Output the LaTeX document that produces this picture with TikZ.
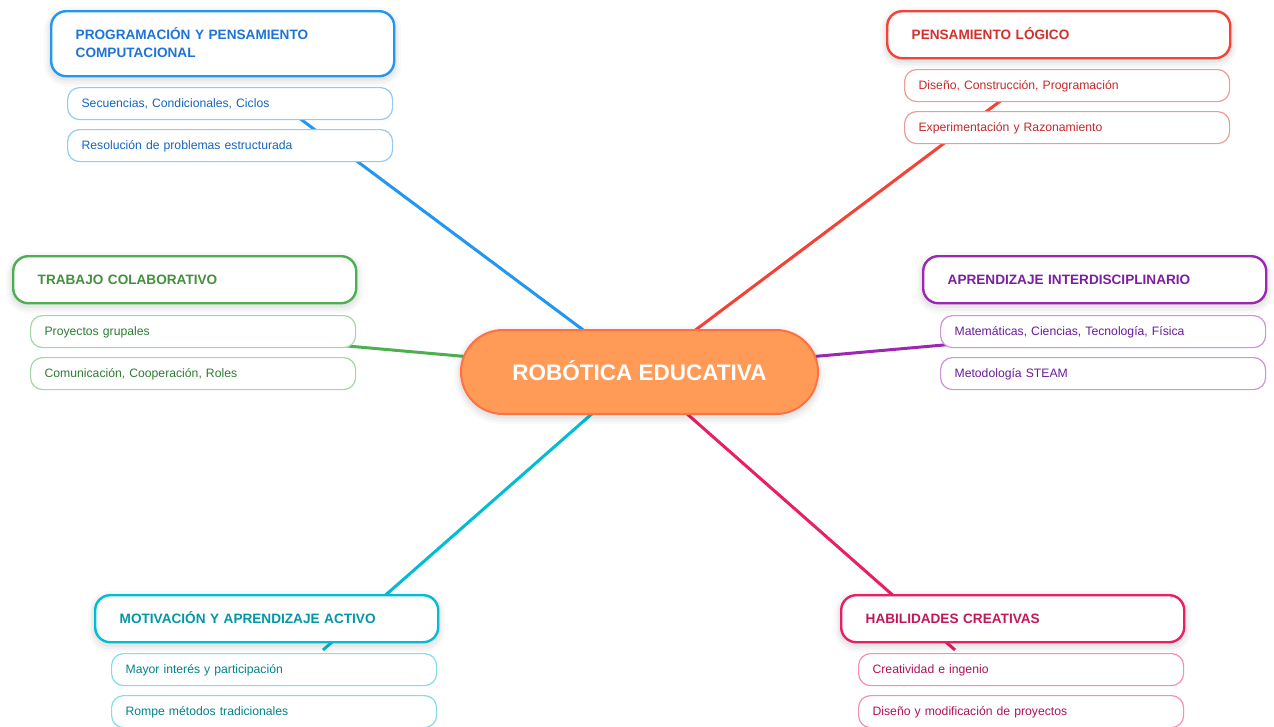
\documentclass[tikz,border=0pt]{standalone}
\usepackage{fontspec}
\setmainfont{Liberation Sans}
\pgfdeclarelayer{back}
\pgfdeclarelayer{bg}
\pgfsetlayers{back,bg,main}
\definecolor{cBlue}{HTML}{2196F3}\definecolor{tBlue}{HTML}{1E74D6}\definecolor{lBlue}{HTML}{90CAF9}\definecolor{sBlue}{HTML}{1565C0}
\definecolor{cRed}{HTML}{F44336}\definecolor{tRed}{HTML}{D32F2F}\definecolor{lRed}{HTML}{EF9A9A}\definecolor{sRed}{HTML}{C62828}
\definecolor{cGreen}{HTML}{4CAF50}\definecolor{tGreen}{HTML}{43903A}\definecolor{lGreen}{HTML}{A5D6A7}\definecolor{sGreen}{HTML}{2E7D32}
\definecolor{cPurple}{HTML}{9C27B0}\definecolor{tPurple}{HTML}{7B1FA2}\definecolor{lPurple}{HTML}{CE93D8}\definecolor{sPurple}{HTML}{6A1B9A}
\definecolor{cCyan}{HTML}{00BCD4}\definecolor{tCyan}{HTML}{0097A7}\definecolor{lCyan}{HTML}{80DEEA}\definecolor{sCyan}{HTML}{00838F}
\definecolor{cPink}{HTML}{E91E63}\definecolor{tPink}{HTML}{C2185B}\definecolor{lPink}{HTML}{F48FB1}\definecolor{sPink}{HTML}{AD1457}
\definecolor{cOrange}{HTML}{FF9A57}\definecolor{bOrange}{HTML}{FF7043}
\tikzset{
  shd/.style={
    preaction={draw=black, draw opacity=0.025, line width=14pt, transform canvas={yshift=-3pt}},
    preaction={draw=black, draw opacity=0.03, line width=9pt, transform canvas={yshift=-3pt}},
    preaction={draw=black, draw opacity=0.04, line width=5pt, transform canvas={yshift=-2pt}}},
  hdr/.style n args={2}{draw=#1, line width=2.4pt, fill=white, rounded corners=15pt, anchor=north west,
    minimum width=343pt, minimum height=47pt, inner xsep=24.5pt, inner ysep=0pt, text width=294pt, align=left,
    font=\bfseries\fontsize{13.6}{18}\selectfont, text=#2, shd, text height=9.7pt, text depth=0pt},
  subbox/.style n args={2}{draw=#1, line width=1.2pt, fill=white, rounded corners=12pt, anchor=north west,
    minimum width=325pt, minimum height=32pt, inner xsep=14pt, inner ysep=0pt, text width=297pt, align=left,
    font=\fontsize{12.2}{14}\selectfont, text=#2, text height=8.7pt, text depth=0pt},
  conn/.style={draw=#1, line width=3pt},
  hub/.style={draw=bOrange, line width=2pt, fill=cOrange, rounded corners=42pt, minimum width=357pt, minimum height=84pt,
    font=\bfseries\fontsize{22.5}{27}\selectfont, text=white, shd, text height=16.1pt, text depth=0pt}
}
\begin{document}
\begin{tikzpicture}[x=1pt,y=-1pt]
\begin{pgfonlayer}{back}
\fill[white] (0,0) rectangle (1274,726);
\end{pgfonlayer}
\useasboundingbox (0,0) rectangle (1274,726);
% center
\node[hub] (center) at (639.5,372) {ROBÓTICA EDUCATIVA};
% blue
\node[hdr={cBlue}{tBlue}, minimum height=65pt, text depth=18pt] (h1) at (50,10) {PROGRAMACIÓN Y PENSAMIENTO\\COMPUTACIONAL};
\node[subbox={lBlue}{sBlue}] (s11) at (67,87) {Secuencias, Condicionales, Ciclos};
\node[subbox={lBlue}{sBlue}] (s12) at (67,129) {Resolución de problemas estructurada};
% red
\node[hdr={cRed}{tRed}] (h2) at (886,10) {PENSAMIENTO LÓGICO};
\node[subbox={lRed}{sRed}] (s21) at (904,69) {Diseño, Construcción, Programación};
\node[subbox={lRed}{sRed}] (s22) at (904,111) {Experimentación y Razonamiento};
% green
\node[hdr={cGreen}{tGreen}] (h3) at (12,255) {TRABAJO COLABORATIVO};
\node[subbox={lGreen}{sGreen}] (s31) at (30,315) {Proyectos grupales};
\node[subbox={lGreen}{sGreen}] (s32) at (30,357) {Comunicación, Cooperación, Roles};
% purple
\node[hdr={cPurple}{tPurple}] (h4) at (922,255) {APRENDIZAJE INTERDISCIPLINARIO};
\node[subbox={lPurple}{sPurple}] (s41) at (940,315) {Matemáticas, Ciencias, Tecnología, Física};
\node[subbox={lPurple}{sPurple}] (s42) at (940,357) {Metodología STEAM};
% cyan
\node[hdr={cCyan}{tCyan}] (h5) at (94,594) {MOTIVACIÓN Y APRENDIZAJE ACTIVO};
\node[subbox={lCyan}{sCyan}] (s51) at (111,653) {Mayor interés y participación};
\node[subbox={lCyan}{sCyan}] (s52) at (111,695) {Rompe métodos tradicionales};
% pink
\node[hdr={cPink}{tPink}] (h6) at (840,594) {HABILIDADES CREATIVAS};
\node[subbox={lPink}{sPink}] (s61) at (858,653) {Creatividad e ingenio};
\node[subbox={lPink}{sPink}] (s62) at (858,695) {Diseño y modificación de proyectos};
% connector ends
\coordinate (e1) at (275,100);
\coordinate (e2) at (1015,90);
\coordinate (e3) at (190,332);
\coordinate (e4) at (1090,332);
\coordinate (e5) at (323,650);
\coordinate (e6) at (955,650);
\begin{pgfonlayer}{bg}
\draw[conn=cBlue] (center.center) -- (e1);
\draw[conn=cRed] (center.center) -- (e2);
\draw[conn=cGreen] (center.center) -- (e3);
\draw[conn=cPurple] (center.center) -- (e4);
\draw[conn=cCyan] (center.center) -- (e5);
\draw[conn=cPink] (center.center) -- (e6);
\end{pgfonlayer}
\end{tikzpicture}
\end{document}
